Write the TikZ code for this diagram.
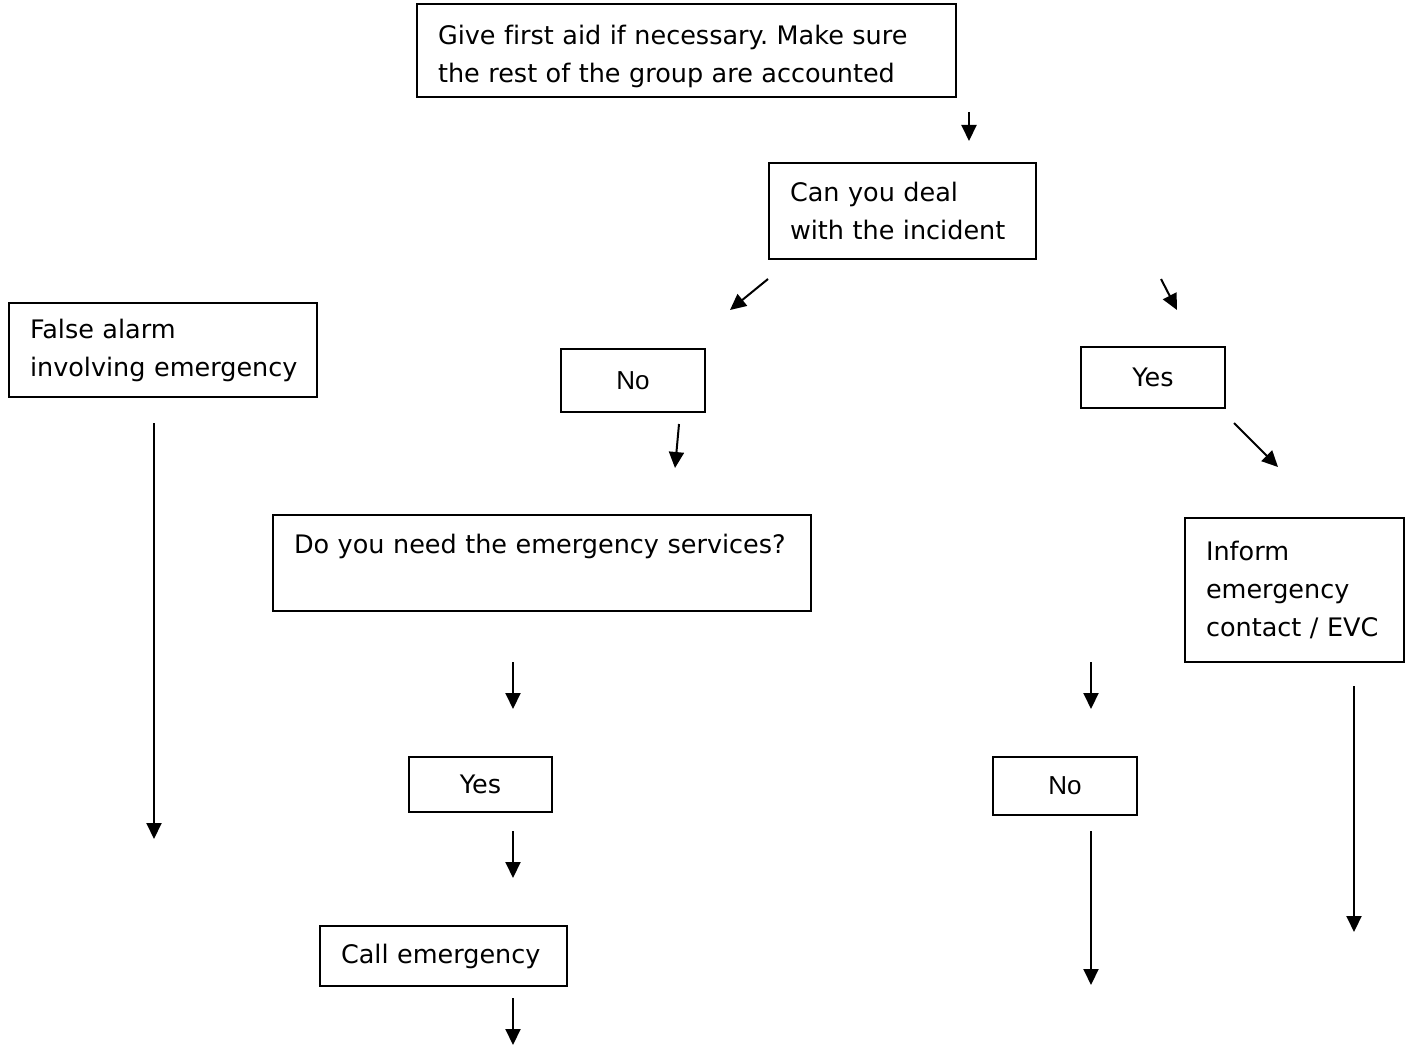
\documentclass[tikz,border=0pt]{standalone}
\usepackage{fontspec}
\setmainfont[Ligatures={NoCommon}]{DejaVu Sans}
\newfontfamily\arialfont{Liberation Sans}
\usetikzlibrary{arrows.meta}
\frenchspacing
\hfuzz=200pt
\hbadness=10000
\tikzset{
  box/.style={draw, line width=1.6pt, inner xsep=21pt, inner ysep=0pt, align=left,
    font=\fontsize{25.5}{38}\selectfont},
  small/.style={draw, line width=1.6pt, inner sep=0pt, align=center,
    font=\fontsize{25.5}{38}\selectfont},
  arr/.style={line width=2pt, -{Triangle[width=15pt,length=16pt]}}
}
\begin{document}
\begin{tikzpicture}[x=1pt,y=-1pt]
\useasboundingbox (0,0) rectangle (1405,1046);
% boxes
\node[box, text width=497pt, minimum height=93pt] (top) at (686.5,50.5)
  {\rule{0pt}{32pt}\mbox{Give first aid if necessary. Make sure}\\\mbox{the rest of the group are accounted}};
\node[box, text width=225pt, minimum height=96pt] (deal) at (902.5,211)
  {\mbox{Can you deal}\\\mbox{with the incident}};
\node[box, text width=266pt, minimum height=94pt] (false) at (163,350)
  {\mbox{False alarm}\\\mbox{involving emergency}};
\node[small, minimum width=144pt, minimum height=63pt, font=\arialfont\fontsize{26}{37}\selectfont] (no1) at (633,380.5) {No};
\node[small, minimum width=144pt, minimum height=61pt] (yes1) at (1153,377.5) {Yes};
\node[box, text width=496pt, minimum height=96pt] (need) at (542,563)
  {\mbox{Do you need the emergency services?}\\\mbox{}};
\node[box, text width=177pt, minimum height=144pt] (inform) at (1294.5,590)
  {\mbox{Inform}\\\mbox{emergency}\\\mbox{contact / EVC}};
\node[small, minimum width=143pt, minimum height=55pt] (yes2) at (480.5,784.5) {Yes};
\node[small, minimum width=144pt, minimum height=58pt, font=\arialfont\fontsize{26}{37}\selectfont] (no2) at (1065,786) {No};
\node[box, text width=205pt, minimum height=60pt] (call) at (443.5,956) {\mbox{Call emergency}};
% arrow end points
\coordinate (a1s) at (969,112);  \coordinate (a1e) at (969,141);
\coordinate (a2s) at (768,279);  \coordinate (a2e) at (730,310);
\coordinate (a3s) at (1161,279); \coordinate (a3e) at (1177,310);
\coordinate (a4s) at (679,424);  \coordinate (a4e) at (675,468);
\coordinate (a5s) at (1234,423); \coordinate (a5e) at (1278,467);
\coordinate (a6s) at (154,423);  \coordinate (a6e) at (154,839);
\coordinate (a7s) at (513,662);  \coordinate (a7e) at (513,709);
\coordinate (a8s) at (1091,662); \coordinate (a8e) at (1091,709);
\coordinate (a9s) at (1354,686); \coordinate (a9e) at (1354,932);
\coordinate (a10s) at (513,831); \coordinate (a10e) at (513,878);
\coordinate (a11s) at (1091,831);\coordinate (a11e) at (1091,985);
\coordinate (a12s) at (513,998); \coordinate (a12e) at (513,1045);
\foreach \i in {1,...,12} {\draw[arr] (a\i s) -- (a\i e);}
\end{tikzpicture}
\end{document}
